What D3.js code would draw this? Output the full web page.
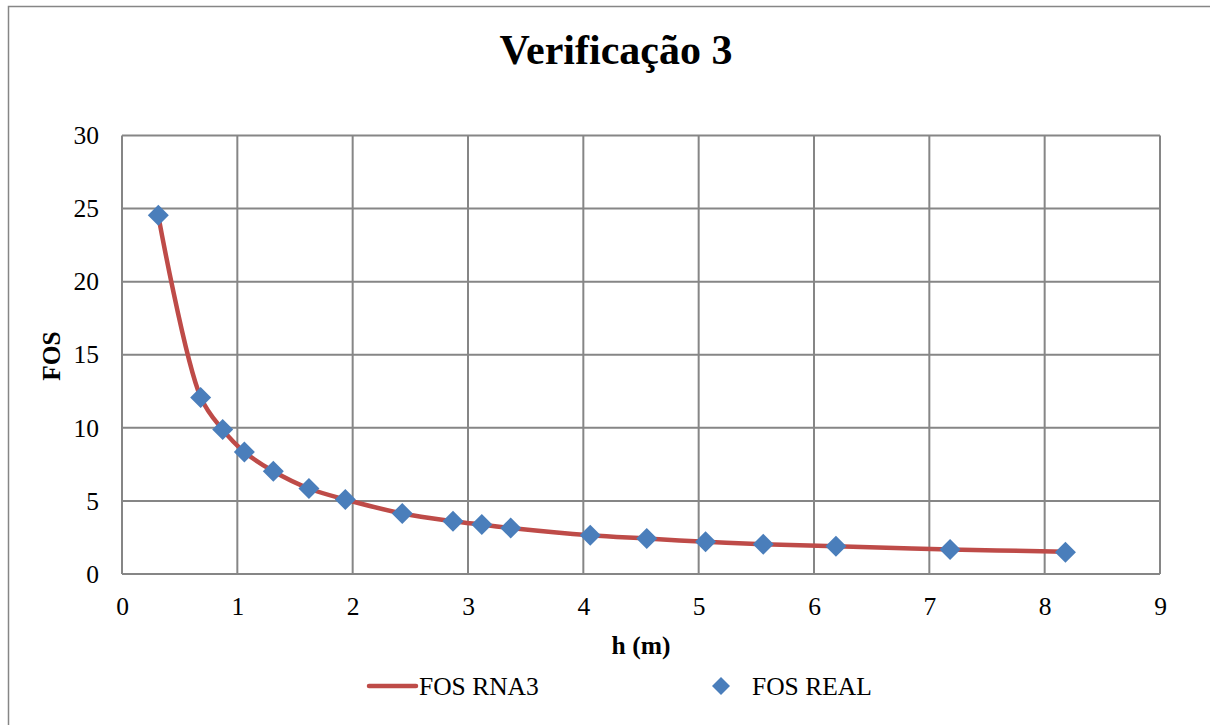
<!DOCTYPE html>
<html>
<head>
<meta charset="utf-8">
<script src="https://cdn.jsdelivr.net/npm/d3@7"></script>
<style>
  html, body { margin: 0; padding: 0; background: #fff; }
  svg { display: block; }
</style>
</head>
<body>
<svg id="chart" width="1210" height="725"></svg>
<script>
// Depth h (m) of each verified case
const hValues = [0.315, 0.682, 0.873, 1.061, 1.312, 1.621, 1.936, 2.43, 2.87, 3.12, 3.37, 4.06, 4.55, 5.06, 5.56, 6.19, 7.18, 8.18];
// Factor of safety predicted by the neural network (RNA3)
const fosRna3 = [24.5, 12.1, 9.88, 8.35, 7.03, 5.85, 5.10, 4.14, 3.61, 3.38, 3.15, 2.65, 2.43, 2.20, 2.04, 1.90, 1.68, 1.52];
// Factor of safety from the reference calculation
const fosReal = [24.54, 12.07, 9.88, 8.35, 7.03, 5.85, 5.10, 4.14, 3.61, 3.38, 3.15, 2.65, 2.43, 2.20, 2.04, 1.90, 1.68, 1.49];
const xTicks = [0, 1, 2, 3, 4, 5, 6, 7, 8, 9];
const yTicks = [0, 5, 10, 15, 20, 25, 30];

const serif = "'Liberation Serif', 'DejaVu Serif', serif";
const svg = d3.select("#chart");
const plot = { left: 122, right: 1160, top: 135.5, bottom: 574 };
const gridColor = "#868686";

// outer chart frame
svg.append("rect")
  .attr("x", 8.5).attr("y", 6.5)
  .attr("width", 1220).attr("height", 740)
  .attr("fill", "none").attr("stroke", gridColor).attr("stroke-width", 1.5);

const x = d3.scaleLinear().domain([0, 9]).range([plot.left, plot.right]);
const y = d3.scaleLinear().domain([0, 30]).range([plot.bottom, plot.top]);

// gridlines
const grid = svg.append("g");
grid.selectAll("line.v").data(xTicks).join("line")
  .attr("x1", d => x(d)).attr("x2", d => x(d))
  .attr("y1", plot.top).attr("y2", plot.bottom)
  .attr("stroke", gridColor).attr("stroke-width", 2);
grid.selectAll("line.h").data(yTicks).join("line")
  .attr("x1", plot.left).attr("x2", plot.right)
  .attr("y1", d => y(d)).attr("y2", d => y(d))
  .attr("stroke", gridColor).attr("stroke-width", 2);

// axes (labels only, lines come from the grid)
const xAxis = svg.append("g")
  .attr("transform", `translate(0,${plot.bottom})`)
  .call(d3.axisBottom(x).tickValues(xTicks).tickSize(0).tickPadding(23).tickFormat(d3.format("d")));
xAxis.select(".domain").remove();
xAxis.attr("font-family", null).attr("font-size", null);
xAxis.selectAll("text").style("font-family", serif).style("font-size", "25.5px").attr("fill", "#000");

const yAxis = svg.append("g")
  .attr("transform", `translate(${plot.left},0)`)
  .call(d3.axisLeft(y).tickValues(yTicks).tickSize(0).tickPadding(23).tickFormat(d3.format("d")));
yAxis.select(".domain").remove();
yAxis.attr("font-family", null).attr("font-size", null);
yAxis.selectAll("text").style("font-family", serif).style("font-size", "25.5px").attr("fill", "#000");

// smooth prediction curve
const lineData = hValues.map((h, i) => [h, fosRna3[i]]);
svg.append("path")
  .datum(lineData)
  .attr("fill", "none")
  .attr("stroke", "#BE4B48")
  .attr("stroke-width", 4.5)
  .attr("stroke-linecap", "round")
  .attr("d", d3.line().x(d => x(d[0])).y(d => y(d[1])).curve(d3.curveCatmullRom.alpha(0.5)));

// diamond markers
const diamondPath = "M0,-10.5L10.5,0L0,10.5L-10.5,0Z";
svg.append("g").selectAll("path")
  .data(hValues.map((h, i) => [h, fosReal[i]]))
  .join("path")
  .attr("transform", d => `translate(${x(d[0])},${y(d[1])})`)
  .attr("d", diamondPath)
  .attr("fill", "#4A7EBB");

// title and axis titles
svg.append("text")
  .attr("x", 616).attr("y", 64)
  .attr("text-anchor", "middle")
  .style("font-family", serif).style("font-size", "42px").style("font-weight", "bold")
  .text("Verificação 3");

svg.append("text")
  .attr("transform", "translate(60,356) rotate(-90)")
  .attr("text-anchor", "middle")
  .style("font-family", serif).style("font-size", "25.5px").style("font-weight", "bold")
  .text("FOS");

svg.append("text")
  .attr("x", 641).attr("y", 654)
  .attr("text-anchor", "middle")
  .style("font-family", serif).style("font-size", "25.5px").style("font-weight", "bold")
  .text("h (m)");

// legend
const legend = svg.append("g");
legend.append("line")
  .attr("x1", 369).attr("x2", 416).attr("y1", 686).attr("y2", 686)
  .attr("stroke", "#BE4B48").attr("stroke-width", 4.5).attr("stroke-linecap", "round");
legend.append("text")
  .attr("x", 419).attr("y", 695)
  .style("font-family", serif).style("font-size", "25.5px")
  .text("FOS RNA3");
legend.append("path")
  .attr("transform", "translate(721,686)")
  .attr("d", "M0,-9L9,0L0,9L-9,0Z")
  .attr("fill", "#4A7EBB");
legend.append("text")
  .attr("x", 752).attr("y", 695)
  .style("font-family", serif).style("font-size", "25.5px")
  .text("FOS REAL");
</script>
</body>
</html>
